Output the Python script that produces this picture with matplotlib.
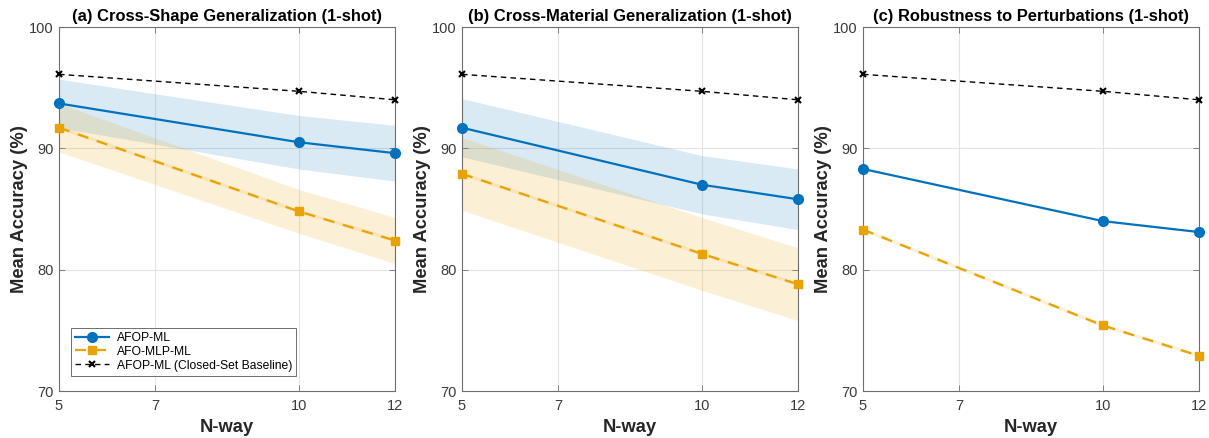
import matplotlib
matplotlib.use("Agg")
import matplotlib.pyplot as plt
import numpy as np

plt.rcParams['font.family'] = ['Liberation Sans', 'DejaVu Sans']

n_way = [5, 10, 12]
x_ticks = [5, 7, 10, 12]
y_ticks = [70, 80, 90, 100]

titles = ["(a) Cross-Shape Generalization (1-shot)",
          "(b) Cross-Material Generalization (1-shot)",
          "(c) Robustness to Perturbations (1-shot)"]

baseline = [96.1, 94.7, 94.0]

afop_a = [93.7, 90.5, 89.6]
afop_a_std = [2.0, 2.2, 2.3]
mlp_a = [91.7, 84.8, 82.4]
mlp_a_std = [2.0, 1.8, 1.9]

afop_b = [91.7, 87.0, 85.8]
afop_b_std = [2.4, 2.4, 2.5]
mlp_b = [87.9, 81.3, 78.8]
mlp_b_std = [3.0, 3.0, 3.0]

afop_c = [88.3, 84.0, 83.1]
mlp_c = [83.3, 75.4, 72.9]

labels = ["AFOP-ML", "AFO-MLP-ML", "AFOP-ML (Closed-Set Baseline)"]

blue = "#0072BD"
orange = "#E8A202"
axcol = "#6e6e6e"
txtcol = "#262626"
tickcol = "#3a3a3a"

fig = plt.figure(figsize=(12.09, 4.38), dpi=100)
lefts = [59/1209, 462/1209, 863/1209]
w = 336/1209
bottom = 1 - 391/438
h = (391 - 27)/438

panels = [
    (afop_a, afop_a_std, mlp_a, mlp_a_std),
    (afop_b, afop_b_std, mlp_b, mlp_b_std),
    (afop_c, None, mlp_c, None),
]

for i, (af, afs, ml, mls) in enumerate(panels):
    ax = fig.add_axes([lefts[i], bottom, w, h])
    x = np.array(n_way)
    if afs is not None:
        ax.fill_between(x, np.array(af) - afs, np.array(af) + afs, color=blue, alpha=0.15, lw=0)
    if mls is not None:
        ax.fill_between(x, np.array(ml) - mls, np.array(ml) + mls, color=orange, alpha=0.16, lw=0)
    ax.plot(x, af, '-o', color=blue, lw=1.6, ms=7, label=labels[0], zorder=4, clip_on=False)
    ax.plot(x, ml, color=orange, lw=2.5, alpha=0.15, zorder=3)
    ax.plot(x, ml, '--s', color=orange, lw=1.6, ms=6, label=labels[1], zorder=4,
            dashes=(5, 4), clip_on=False)
    ax.plot(x, baseline, '--x', color='black', lw=1.0, ms=4, mew=1.5, label=labels[2], zorder=4,
            dashes=(4, 3), clip_on=False)
    ax.set_xlim(5, 12)
    ax.set_ylim(70, 100)
    ax.set_xticks(x_ticks)
    ax.set_yticks(y_ticks)
    ax.tick_params(direction='in', length=4, labelsize=10.5, labelcolor=tickcol, color=axcol,
                   top=True, right=True, labeltop=False, labelright=False, width=0.6)
    ax.tick_params(axis='x', pad=6)
    ax.tick_params(axis='y', pad=4)
    ax.grid(True, color='#e4e4e4', lw=0.8)
    ax.set_axisbelow(True)
    for s in ax.spines.values():
        s.set_color(axcol)
        s.set_linewidth(0.8)
    ax.set_title(titles[i], fontsize=11.9, fontweight='bold', pad=4)
    ax.set_xlabel("N-way", fontsize=13.2, fontweight='bold', labelpad=4, color=txtcol)
    ax.set_ylabel("Mean Accuracy (%)", fontsize=13.2, fontweight='bold', labelpad=0.5, color=txtcol)
    if i == 0:
        leg = ax.legend(handles=ax.lines[:1] + ax.lines[2:4], labels=labels,
                        loc='lower left', fontsize=8.75, frameon=True, fancybox=False,
                        edgecolor=axcol, framealpha=1, borderpad=0.35, labelspacing=0.15,
                        handlelength=2.8, handletextpad=0.6, bbox_to_anchor=(0.018, 0.025))
        leg.get_frame().set_linewidth(0.7)

fig.savefig("out.png", dpi=100)
